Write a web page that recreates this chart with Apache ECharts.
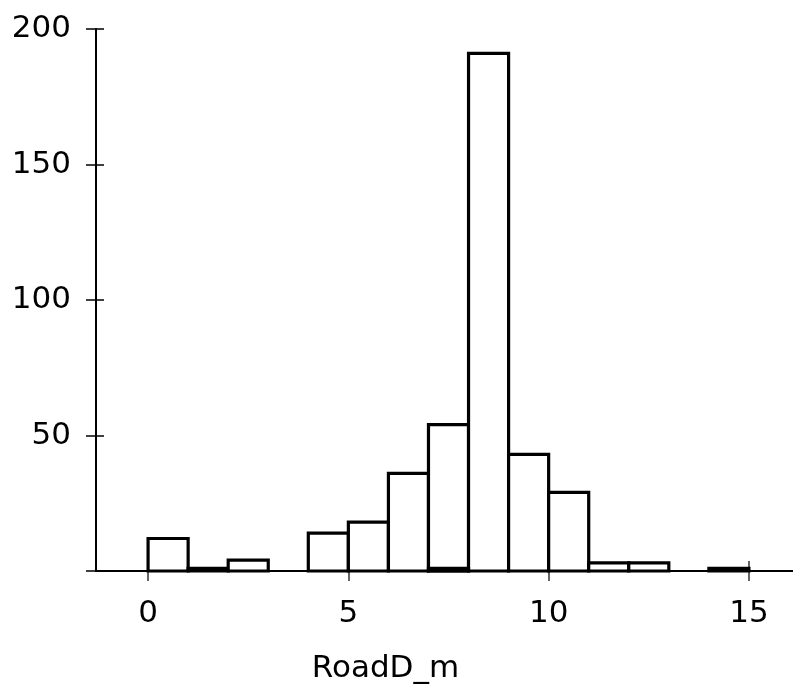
<!DOCTYPE html>
<html>
<head>
<meta charset="utf-8">
<script src="https://cdn.jsdelivr.net/npm/echarts@6/dist/echarts.min.js"></script>
<style>html,body{margin:0;padding:0;background:#fff}#c{width:793px;height:689px}</style>
</head>
<body>
<div id="c"></div>
<script>
var binStarts = [0, 1, 2, 3, 4, 5, 6, 7, 8, 9, 10, 11, 12, 13, 14, 15];
var binWidth = 1;
var counts = [12, 1, 4, 0, 14, 18, 36, 54, 191, 43, 29, 3, 3, 0, 1, 0];
var counts2 = [0, 0, 0, 0, 0, 0, 0, 1, 0, 0, 0, 0, 0, 0, 0, 0];
var xTicks = [0, 5, 10, 15];
var yTickLabels = [50, 100, 150, 200];
var xName = 'RoadD_m';

function toData(arr) {
  var out = [];
  for (var i = 0; i < binStarts.length; i++) {
    if (arr[i] > 0) out.push([binStarts[i], binStarts[i] + binWidth, arr[i]]);
  }
  return out;
}

function renderBar(params, api) {
  var p0 = api.coord([api.value(0), 0]);
  var p1 = api.coord([api.value(1), api.value(2)]);
  return {
    type: 'rect',
    shape: { x: p0[0], y: p1[1], width: p1[0] - p0[0], height: p0[1] - p1[1] },
    style: { fill: '#fff', stroke: '#000', lineWidth: 3.2 }
  };
}

var font = 'DejaVu Sans';
var chart = echarts.init(document.getElementById('c'));
chart.setOption({
  animation: false,
  backgroundColor: '#fff',
  grid: { left: 96, right: 0, top: 29, bottom: 116, containLabel: false },
  xAxis: [{
    type: 'value', min: -1.3, max: 16.1, position: 'bottom',
    splitLine: { show: false },
    axisLine: { show: true, onZero: false, lineStyle: { color: '#000', width: 2 } },
    axisTick: { show: true, inside: false, length: 10, customValues: xTicks, lineStyle: { color: '#333', width: 1.5 } },
    axisLabel: { customValues: xTicks, margin: 27, color: '#000', fontSize: 31, fontFamily: font },
    name: xName, nameLocation: 'middle', nameGap: 82,
    nameTextStyle: { color: '#000', fontSize: 31, fontFamily: font, padding: [0, 118, 0, 0] }
  }, {
    type: 'value', min: -1.3, max: 16.1, position: 'bottom', offset: 0,
    splitLine: { show: false },
    axisLine: { show: false, onZero: false },
    axisTick: { show: true, inside: true, length: 10, customValues: xTicks, lineStyle: { color: '#333', width: 1.5 } },
    axisLabel: { show: false }
  }],
  yAxis: [{
    type: 'value', min: 0, max: 200, interval: 50, position: 'left',
    splitLine: { show: false },
    axisLine: { show: true, onZero: false, lineStyle: { color: '#000', width: 2 } },
    axisTick: { show: true, inside: false, length: 10, lineStyle: { color: '#000', width: 1.5 } },
    axisLabel: { customValues: yTickLabels, margin: 25, color: '#000', fontSize: 31, fontFamily: font }
  }, {
    type: 'value', min: 0, max: 200, interval: 50, position: 'left', offset: 0,
    splitLine: { show: false },
    axisLine: { show: false, onZero: false },
    axisTick: { show: true, inside: true, length: 8, lineStyle: { color: '#000', width: 1.5 } },
    axisLabel: { show: false }
  }],
  series: [{
    type: 'custom', xAxisIndex: 0, yAxisIndex: 0,
    renderItem: renderBar, encode: { x: [0, 1], y: 2 },
    data: toData(counts)
  }, {
    type: 'custom', xAxisIndex: 0, yAxisIndex: 0,
    renderItem: renderBar, encode: { x: [0, 1], y: 2 },
    data: toData(counts2)
  }]
});
</script>
</body>
</html>
